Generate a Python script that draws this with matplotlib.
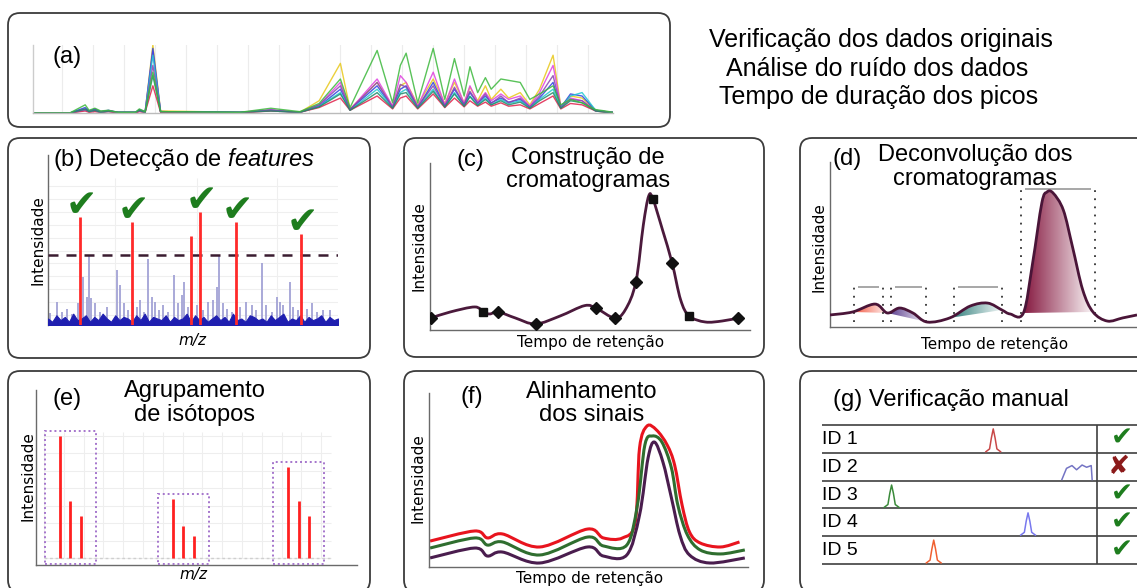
import numpy as np
import matplotlib
matplotlib.use('Agg')
import matplotlib.pyplot as plt
from matplotlib.patches import FancyBboxPatch, PathPatch, Rectangle
from matplotlib.path import Path
from matplotlib.colors import LinearSegmentedColormap

plt.rcParams['font.family'] = 'Liberation Sans'
plt.rcParams['mathtext.fontset'] = 'custom'
plt.rcParams['mathtext.rm'] = 'Liberation Sans'
plt.rcParams['mathtext.it'] = 'Liberation Sans:italic'

# ---- (a) dados originais: varios cromatogramas sobrepostos (tempo em min, intensidade %)
a_rt = [0.0, 1.9, 2.7, 2.9, 3.2, 3.5, 3.9, 4.4, 5.3, 5.5, 5.8, 6.2, 6.6, 10.7, 12.3,
        13.8, 14.8, 15.9, 16.4, 17.8, 18.6, 19.0, 19.3, 19.9, 20.7, 21.3, 21.8, 22.3,
        22.6, 23.0, 23.4, 23.7, 24.2, 24.6, 25.2, 25.7, 26.2, 26.9, 27.3, 27.8, 28.4,
        29.1, 29.6, 30.0]
a_yellow = [0, 0, 5, 2, 4, 2, 3, 1, 1, 3, 1, 100, 3, 1, 4, 1, 18, 73, 6, 45, 10, 40, 45, 12,
            50, 14, 45, 15, 38, 18, 40, 20, 35, 22, 30, 12, 35, 85, 10, 25, 22, 4, 2, 1]
a_magenta = [0, 0, 6, 3, 5, 2, 3, 1, 1, 4, 2, 90, 2, 1, 5, 1, 12, 45, 5, 50, 10, 55, 45, 10,
             60, 12, 50, 14, 40, 16, 30, 18, 28, 20, 25, 10, 30, 70, 10, 22, 18, 4, 2, 1]
a_blue = [0, 0, 8, 3, 6, 2, 4, 1, 1, 5, 2, 95, 2, 1, 4, 1, 10, 35, 5, 40, 8, 35, 40, 8,
          45, 10, 35, 12, 30, 14, 25, 15, 22, 16, 20, 8, 22, 45, 8, 28, 25, 4, 2, 1]
a_cyan = [0, 0, 4, 2, 3, 1, 2, 1, 1, 3, 1, 85, 2, 1, 3, 1, 10, 30, 4, 35, 8, 30, 35, 8,
          35, 8, 30, 10, 25, 12, 22, 12, 20, 14, 18, 8, 20, 35, 8, 25, 30, 4, 2, 1]
a_red = [0, 0, 3, 1, 2, 1, 2, 0, 0, 2, 1, 40, 1, 0, 3, 1, 8, 22, 4, 25, 6, 22, 25, 6,
         28, 8, 22, 9, 18, 10, 16, 10, 15, 10, 12, 6, 14, 25, 6, 14, 12, 3, 1, 0]
a_purple = [0, 0, 5, 2, 4, 1, 3, 1, 1, 3, 1, 70, 2, 1, 4, 1, 12, 40, 5, 45, 8, 42, 38, 9,
            40, 10, 38, 12, 32, 14, 28, 14, 25, 15, 22, 9, 25, 55, 8, 20, 18, 3, 2, 1]
a_teal = [0, 0, 6, 2, 4, 1, 3, 1, 1, 4, 1, 55, 2, 1, 3, 1, 9, 28, 4, 30, 7, 28, 30, 7,
          32, 9, 28, 10, 24, 11, 20, 12, 18, 12, 16, 7, 18, 30, 7, 18, 15, 3, 1, 0]
a_green = [0, 0, 12, 4, 7, 3, 4, 1, 1, 6, 2, 60, 2, 1, 7, 2, 14, 50, 8, 92, 15, 70, 88, 15,
           95, 20, 80, 25, 68, 30, 52, 35, 50, 48, 45, 20, 28, 40, 12, 20, 15, 5, 3, 1]

# ---- (b) espectro de massas (m/z, intensidade %)
b_mz_bg = [106, 129, 145, 158, 174, 194, 210, 222, 228, 235, 246, 261, 282, 315, 323, 336,
           349, 365, 375, 385, 399, 411, 422, 432, 445, 458, 473, 492, 504, 515, 522, 535,
           561, 582, 597, 613, 623, 632, 642, 654, 670, 696, 716, 732, 745, 765, 778, 794,
           810, 820, 830, 851, 861, 877, 903, 918, 934, 954, 975]
b_int_bg = [7.6, 14.4, 8.0, 10.1, 7.0, 13.4, 29.8, 17.5, 42.6, 16.5, 13.4, 8.0, 11.3, 34.2,
            24.6, 13.4, 9.1, 13.4, 11.3, 15.4, 8.0, 40.5, 17.5, 14.4, 9.1, 12.3, 8.0, 30.9,
            13.4, 18.5, 26.7, 11.3, 12.3, 9.1, 14.4, 15.4, 23.6, 43.2, 13.4, 10.1, 8.0, 11.3,
            14.4, 12.3, 9.1, 38.4, 12.3, 8.0, 17.5, 14.4, 12.3, 26.7, 11.3, 9.1, 10.1, 13.4,
            8.0, 9.1, 9.1]
b_base = [4, 2, 6, 3, 5, 2, 7, 3, 4, 6, 2, 5, 3, 7, 4, 2, 6, 3, 5, 4, 2, 6, 3, 7, 2, 5, 4,
          3, 6, 2, 5, 3, 4, 7, 2, 6, 3, 5, 2, 4, 6, 3, 5, 2, 7, 3, 4, 2, 6, 5, 3, 4, 2, 6,
          3, 5, 7, 2, 4, 3, 6, 2, 5, 3, 4, 6, 2, 5, 3, 4]
b_peak_mz = [199, 361, 544, 572, 683, 885]
b_peak_int = [66.7, 63.6, 55.0, 69.8, 63.6, 56.2]
b_peak_ok = [True, True, False, True, True, True]
b_threshold = 43.2

# ---- (c) cromatograma construido
c_rt = [0.1, 1.9, 4.2, 5.0, 5.6, 6.4, 8.0, 9.9, 12.2, 14.5, 15.6, 17.3, 18.3, 19.3, 20.0,
        20.5, 20.9, 21.8, 22.7, 23.5, 24.3, 25.8, 27.4, 28.9]
c_int = [7.2, 10.8, 13.8, 10.8, 9.6, 10.8, 7.2, 3.6, 8.4, 14.6, 13.0, 7.2, 12.0, 28.7, 62.9,
         80.2, 78.4, 59.9, 40.1, 18.0, 8.4, 4.8, 5.4, 7.2]
c_scan_rt = [0.1, 5.0, 6.4, 9.9, 15.6, 17.3, 19.3, 20.9, 22.7, 24.3, 28.9]
c_scan_int = [7.2, 10.8, 10.8, 3.6, 13.0, 7.2, 28.7, 78.4, 40.1, 8.4, 7.2]

# ---- (d) deconvolucao
d_rt = [0.0, 2.2, 4.4, 5.6, 6.8, 8.1, 9.5, 11.7, 13.7, 15.4, 16.8, 17.6, 18.9, 19.8, 20.7,
        21.2, 21.8, 22.8, 23.7, 24.7, 25.7, 27.1, 28.6, 30.0]
d_int = [7.3, 9.1, 13.9, 8.5, 11.5, 8.5, 3.0, 5.5, 12.7, 14.5, 10.3, 7.9, 8.5, 38.8, 75.2,
         81.8, 81.2, 70.9, 48.5, 22.4, 9.1, 3.6, 5.5, 7.3]
d_comp_start = [2.2, 5.6, 11.7, 18.9]
d_comp_end = [5.6, 9.5, 16.8, 25.7]
d_win_lo = [2.3, 6.0, 12.1, 18.7]
d_win_hi = [5.2, 9.4, 16.8, 25.9]
d_win_top = [24.5, 24.5, 24.5, 83.5]

# ---- (e) agrupamento de isotopos
e_mz = [244, 264, 284, 456, 475, 496, 671, 691, 711]
e_int = [100, 46.7, 34.4, 48.4, 26.2, 18.0, 74.6, 46.7, 34.4]
e_cluster = [0, 0, 0, 1, 1, 1, 2, 2, 2]

# ---- (f) alinhamento
f_rt_red = [0.1, 4.3, 5.5, 6.9, 10.4, 14.9, 16.4, 18.2, 19.4, 19.8, 20.5, 21.4, 22.4, 23.1,
            23.8, 24.5, 25.5, 27.4, 29.2]
f_int_red = [14.9, 20.7, 16.7, 19.0, 11.5, 21.8, 16.7, 16.7, 25.9, 68.4, 81.0, 78.7, 70.1,
             58.6, 35.6, 20.1, 13.8, 11.5, 14.4]
f_rt_green = [0.1, 4.3, 5.5, 6.9, 10.4, 14.9, 16.4, 18.6, 19.6, 20.3, 21.0, 21.9, 22.8, 23.4,
              24.3, 25.5, 27.4, 29.7]
f_int_green = [10.9, 16.7, 12.6, 14.4, 6.9, 17.2, 12.1, 12.6, 35.6, 70.1, 75.3, 71.8, 56.9,
               35.6, 18.4, 9.8, 7.5, 9.8]
f_rt_purple = [0.1, 4.3, 5.5, 6.9, 10.4, 14.9, 16.4, 18.6, 19.8, 20.6, 21.2, 22.0, 22.8, 23.6,
               24.5, 26.4, 29.7]
f_int_purple = [5.2, 10.9, 6.3, 8.6, 2.3, 11.5, 6.3, 6.9, 29.9, 62.6, 71.8, 60.3, 39.7, 18.4,
                6.9, 2.3, 5.2]

# ---- (g) verificacao manual
g_ids = ['ID 1', 'ID 2', 'ID 3', 'ID 4', 'ID 5']
g_rt_1 = [17.9, 18.3, 18.5, 18.7, 18.9, 19.1, 19.5]
g_h_1 = [0.0, 0.1, 0.5, 0.82, 0.5, 0.1, 0.0]
g_rt_2 = [26.2, 26.7, 27.3, 27.8, 28.4, 28.9, 29.4, 29.5]
g_h_2 = [0.0, 0.40, 0.50, 0.35, 0.52, 0.44, 0.50, 0.0]
g_rt_3 = [6.8, 7.2, 7.4, 7.6, 7.8, 8.0, 8.4]
g_h_3 = [0.0, 0.1, 0.5, 0.8, 0.5, 0.1, 0.0]
g_rt_4 = [21.7, 22.1, 22.3, 22.5, 22.7, 22.9, 23.3]
g_h_4 = [0.0, 0.1, 0.5, 0.8, 0.5, 0.1, 0.0]
g_rt_5 = [11.4, 11.8, 12.0, 12.2, 12.4, 12.6, 13.0]
g_h_5 = [0.0, 0.1, 0.5, 0.82, 0.5, 0.1, 0.0]
g_ok = [True, False, True, True, True]

W, H = 1137, 588
fig = plt.figure(figsize=(W / 100, H / 100), dpi=100)
bg = fig.add_axes([0, 0, 1, 1])
bg.set_xlim(0, W)
bg.set_ylim(H, 0)
bg.axis('off')

LAB = 'DejaVu Sans'
CHECK = '#1e7d1e'


def sub_axes(x0, y0, x1, y1, spines=True):
    ax = fig.add_axes([x0 / W, 1 - y1 / H, (x1 - x0) / W, (y1 - y0) / H])
    ax.set_facecolor('none')
    ax.set_xticks([])
    ax.set_yticks([])
    ax.spines['top'].set_visible(False)
    ax.spines['right'].set_visible(False)
    for s in ['left', 'bottom']:
        ax.spines[s].set_color('#6a6a6a')
        ax.spines[s].set_linewidth(1.0)
        ax.spines[s].set_visible(spines)
    return ax


def curve_path(xs, ys, i0=0, i1=None, close=False):
    # curva suave (bezier) passando pelos pontos
    pts = np.column_stack([xs, ys]).astype(float)
    n = len(pts)
    i1 = n - 1 if i1 is None else i1
    verts, codes = [pts[i0]], [Path.MOVETO]
    for i in range(i0, i1):
        p0, p1 = pts[max(i - 1, 0)], pts[i]
        p2, p3 = pts[i + 1], pts[min(i + 2, n - 1)]
        verts += [p1 + (p2 - p0) / 6, p2 - (p3 - p1) / 6, p2]
        codes += [Path.CURVE4] * 3
    if close:
        verts += [pts[i0], pts[i0]]
        codes += [Path.LINETO, Path.CLOSEPOLY]
    return Path(verts, codes)


for x0, y0, x1, y1 in [(8, 13, 670, 127), (8, 138, 370, 358), (404, 138, 764, 357),
                       (800, 138, 1160, 357), (8, 371, 370, 592), (404, 371, 764, 592),
                       (800, 371, 1160, 592)]:
    bg.add_patch(FancyBboxPatch((x0, y0), x1 - x0, y1 - y0,
                                boxstyle='round,pad=0,rounding_size=12',
                                fc='white', ec='#3c3c3c', lw=1.3))

# (a)
ax = sub_axes(33, 45, 613, 113)
ax.set_xlim(0, 30)
ax.set_ylim(0, 100)
ax.spines['left'].set_color('#cccccc')
ax.spines['bottom'].set_color('#bbbbbb')
ax.set_xticks(np.arange(1.5, 30, 1.6))
ax.tick_params(length=0, labelbottom=False)
ax.grid(axis='x', color='#ececec', lw=0.8)
a_lines = [(a_yellow, '#e8c81a'), (a_magenta, '#e040e0'), (a_blue, '#2f3fdd'),
           (a_cyan, '#20c8d0'), (a_red, '#e0204a'), (a_purple, '#8a44b0'),
           (a_teal, '#1f8a6a'), (a_green, '#3cb83c')]
for vals, col in a_lines:
    ax.plot(a_rt, vals, color=col, lw=1.0, alpha=0.85)

# (b)
ax = sub_axes(48, 155, 338, 325)
ax.set_xlim(100, 1000)
ax.set_ylim(0, 105)
ax.spines['bottom'].set_visible(False)
ax.hlines(np.arange(6, 92, 8), 100, 1000, color='#efefef', lw=0.8, zorder=1)
ax.vlines([308, 562, 810], 0, 91, color='#efefef', lw=0.8, zorder=1)
ax.vlines(b_mz_bg, 0, b_int_bg, color='#a3a3d6', lw=1.3, zorder=2)
mz_base = np.linspace(100, 1000, len(b_base))
ax.fill_between(mz_base, 0, b_base, color='#1f1fb0', lw=0.8, zorder=3)
ax.axhline(b_threshold, color='#3a1c30', lw=1.8, ls=(0, (4, 3.2)), zorder=4)
ax.vlines(b_peak_mz, 0, b_peak_int, color='#ff2a2a', lw=2, zorder=5)
for mz, h, ok in zip(b_peak_mz, b_peak_int, b_peak_ok):
    if ok:
        ax.annotate('✔', (mz, h), xytext=(1, -5), textcoords='offset points', ha='center',
                    va='bottom', fontsize=27, color=CHECK, family='DejaVu Sans', zorder=6)

# (c)
ax = sub_axes(430, 163, 750, 330)
ax.set_xlim(0, 30)
ax.set_ylim(0, 100)
ax.add_patch(PathPatch(curve_path(c_rt, c_int), fill=False, ec='#4b1a3c', lw=2))
c_marks = ['D', 's', 'D', 'D', 'D', 'D', 'D', 's', 'D', 's', 'D']
for x, y, m in zip(c_scan_rt, c_scan_int, c_marks):
    ax.plot(x, y, marker=m, color='#111111', ms=6 if m == 'D' else 5.5, zorder=5)

# (d)
ax = sub_axes(830, 162, 1137, 327)
comp_colors = ['#f2553f', '#54358a', '#2b7b78', '#85183f']
for lo, hi, col in zip(d_comp_start, d_comp_end, comp_colors):
    i0, i1 = d_rt.index(lo), d_rt.index(hi)
    patch = PathPatch(curve_path(d_rt, d_int, i0, i1, close=True), fc='none', ec='none')
    ax.add_patch(patch)
    cmap = LinearSegmentedColormap.from_list('grad', [col, '#ffffff'])
    im = ax.imshow(np.linspace(0, 0.95, 100)[None, :], extent=[lo, hi, 0, 100], cmap=cmap,
                   vmin=0, vmax=1, aspect='auto', origin='lower', zorder=2)
    im.set_clip_path(patch)
ax.add_patch(PathPatch(curve_path(d_rt, d_int), fill=False, ec='#4a1538', lw=2, zorder=4))
for lo, hi, top in zip(d_win_lo, d_win_hi, d_win_top):
    ax.vlines([lo, hi], 3.2, top, color='#333333', lw=1.3, ls=(0, (1, 3.5)), zorder=3)
    ax.hlines(top, lo + 0.4, hi - 0.4, color='#a0a0a0', lw=1.3, zorder=3)
ax.set_xlim(0, 30)
ax.set_ylim(0, 100)

# (e)
ax = sub_axes(36, 390, 357, 565)
ax.set_xlim(200, 800)
ax.set_ylim(-5.7, 137.7)
ax.vlines(np.arange(215, 760, 37), 0, 103, color='#eeeeee', lw=0.8)
ax.hlines(np.arange(0, 104, 14.3), 215, 752, color='#eeeeee', lw=0.8)
ax.hlines(0, 215, 752, color='#cfcfcf', lw=1, ls=(0, (2, 2)))
ax.vlines(e_mz, 0, e_int, color='#ff2020', lw=2, zorder=3)
for k in sorted(set(e_cluster)):
    mzs = [m for m, c in zip(e_mz, e_cluster) if c == k]
    ints = [v for v, c in zip(e_int, e_cluster) if c == k]
    lo, hi, top = min(mzs) - 28, max(mzs) + 28, max(ints) + 4
    ax.add_patch(Rectangle((lo, -4.5), hi - lo, top + 4.5, fill=False, ec='#a575cc',
                           ls=(0, (1, 1.5)), lw=1.4, zorder=4))

# (f)
ax = sub_axes(429, 393, 748, 567)
ax.set_xlim(0, 30)
ax.set_ylim(0, 100)
for rts, ints, col in [(f_rt_red, f_int_red, '#e8141e'), (f_rt_green, f_int_green, '#2f6e2f'),
                       (f_rt_purple, f_int_purple, '#4a1d4e')]:
    ax.add_patch(PathPatch(curve_path(rts, ints), fill=False, ec=col, lw=2.2))

# (g)
ax = sub_axes(822, 425, 1137, 564, spines=False)
ax.set_xlim(0, 34.4)
ax.set_ylim(5, 0)
ax.hlines(range(6), 0, 34.4, color='#404040', lw=1.2, clip_on=False)
ax.vlines(30, 0, 5, color='#404040', lw=1.2, clip_on=False)
g_peaks = [(g_rt_1, g_h_1, '#c84848'), (g_rt_2, g_h_2, '#7474c4'), (g_rt_3, g_h_3, '#3a8a3a'),
           (g_rt_4, g_h_4, '#7878ee'), (g_rt_5, g_h_5, '#f06030')]
for i, (name, (rts, hs, col), ok) in enumerate(zip(g_ids, g_peaks, g_ok)):
    ax.text(0.05, i + 0.52, name, va='center', fontsize=14)
    ax.plot(rts, i + 0.96 - np.array(hs), color=col, lw=1.1)
    if ok:
        ax.text(32.8, i + 0.5, '✔', ha='center', va='center', fontsize=19, color=CHECK,
                family='DejaVu Sans', clip_on=False)
    else:
        ax.text(32.4, i + 0.5, '✘', ha='center', va='center', fontsize=19, color='#8b1a1a',
                family='DejaVu Sans', clip_on=False)

# textos por cima de tudo
ov = fig.add_axes([0, 0, 1, 1])
ov.set_xlim(0, W)
ov.set_ylim(H, 0)
ov.axis('off')
TT = 17
LS = 1.1
ov.text(881, 47, 'Verificação dos dados originais', ha='center', va='baseline', fontsize=18)
ov.text(877, 75.5, 'Análise do ruído dos dados', ha='center', va='baseline', fontsize=18)
ov.text(879, 104, 'Tempo de duração dos picos', ha='center', va='baseline', fontsize=18)
ov.text(53, 63, '(a)', va='baseline', fontsize=17)
ov.text(53, 166, r'(b) Detecção de $\it{features}$', va='baseline', fontsize=TT)
ov.text(456, 160, '(c)', va='center', fontsize=TT)
ov.text(588, 169.5, 'Construção de\ncromatogramas', ha='center', va='center', fontsize=TT,
        linespacing=LS)
ov.text(833, 159, '(d)', va='center', fontsize=TT)
ov.text(975, 167, 'Deconvolução dos\ncromatogramas', ha='center', va='center', fontsize=TT,
        linespacing=LS)
ov.text(52, 398.5, '(e)', va='center', fontsize=TT)
ov.text(195, 403, 'Agrupamento\nde isótopos', ha='center', va='center', fontsize=TT,
        linespacing=LS)
ov.text(460, 397.5, '(f)', va='center', fontsize=TT)
ov.text(592, 403.5, 'Alinhamento\ndos sinais', ha='center', va='center', fontsize=TT,
        linespacing=LS)
ov.text(833, 405.7, '(g) Verificação manual', va='baseline', fontsize=TT)

for x, y in [(38, 240), (419, 246), (819, 247), (28, 476), (418, 478)]:
    ov.text(x, y, 'Intensidade', rotation=90, ha='center', va='center', fontsize=11, family=LAB)
for x, y in [(591, 343), (995, 345), (590, 578)]:
    ov.text(x, y, 'Tempo de retenção', ha='center', va='center', fontsize=11, family=LAB)
for x, y in [(192, 340), (193, 575)]:
    ov.text(x, y, 'm/z', ha='center', va='center', fontsize=11, family=LAB, style='italic')

fig.savefig('out.png', dpi=100)
